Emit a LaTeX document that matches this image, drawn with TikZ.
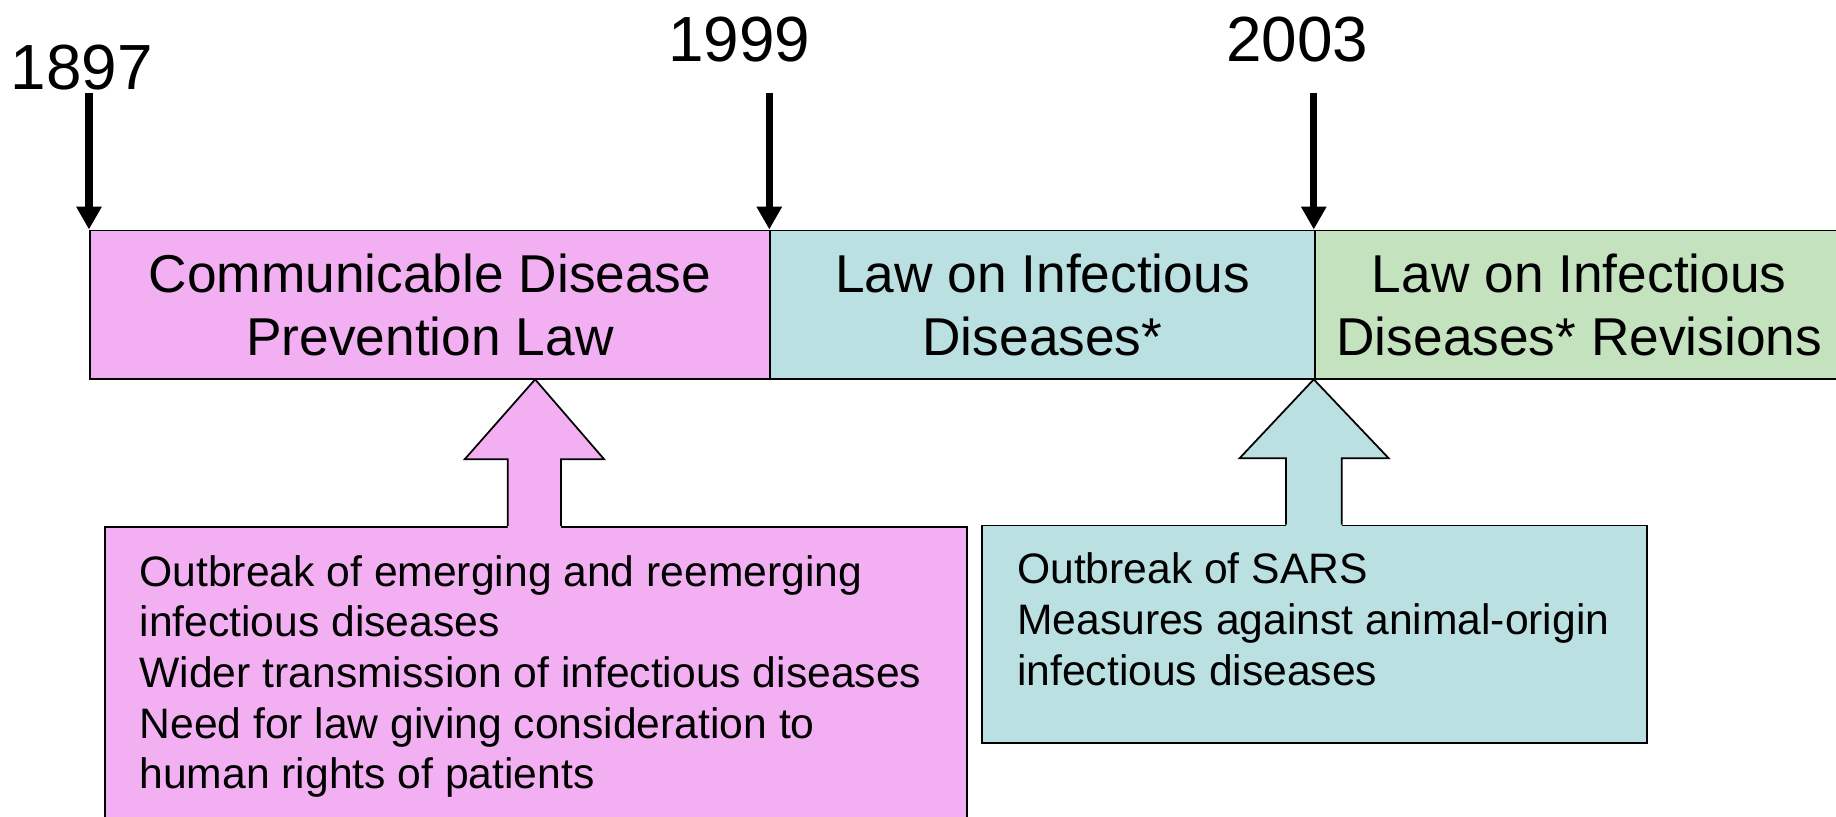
\documentclass[tikz,border=0pt]{standalone}
\usepackage{fontspec}
\setmainfont{Liberation Sans}
\usetikzlibrary{arrows.meta}
\definecolor{pinkc}{RGB}{242,176,242}
\definecolor{bluec}{RGB}{186,224,226}
\definecolor{greenc}{RGB}{196,226,190}
\begin{document}
\begin{tikzpicture}[x=1pt,y=1pt,
  bar/.style={draw=black,line width=1.5pt,inner sep=0pt,align=center,
    font=\fontsize{45.5}{54}\selectfont,anchor=north west,minimum height=127pt},
  yearlbl/.style={font=\fontsize{54.5}{60}\selectfont,inner sep=0pt},
  yrarrow/.style={line width=6pt,-{Triangle[width=20.5pt,length=19.5pt]}},
  infobox/.style={draw=black,line width=1.5pt,anchor=north west,inner sep=0pt},
  infotext/.style={font=\fontsize{36.4}{43.3}\selectfont,align=left,anchor=north west,inner sep=0pt},
  blockarrow/.style={draw=black,line width=1.5pt,line join=miter}]
\useasboundingbox (0,0) rectangle (1568,-697);
\fill[white] (0,0) rectangle (1568,-697);

% timeline bar
\node[bar,fill=pinkc,minimum width=581pt] (b1) at (76,-196) {Communicable Disease\\Prevention Law};
\node[bar,fill=bluec,minimum width=465pt] (b2) at (657,-196) {Law on Infectious\\Diseases*};
\node[bar,fill=greenc,minimum width=452pt] (b3) at (1122,-196) {Law on Infectious\\Diseases* Revisions};

% years
\node[yearlbl] (y1) at (70,-57.5) {1897};
\node[yearlbl] (y2) at (631.5,-33.5) {1999};
\node[yearlbl] (y3) at (1108,-33.5) {2003};
\coordinate (s1) at (76,-79);
\coordinate (s2) at (657,-79);
\coordinate (s3) at (1122,-79);
\draw[yrarrow] (s1) -- (b1.north west);
\draw[yrarrow] (s2) -- (b2.north west);
\draw[yrarrow] (s3) -- (b3.north west);

% lower boxes
\node[infobox,fill=pinkc,minimum width=736pt,minimum height=252pt] (r1) at (89,-449) {};
\node[infobox,fill=bluec,minimum width=568pt,minimum height=186pt] (r2) at (838,-448) {};

% block arrows
\fill[pinkc] (433.6,-451) -- (433.6,-392.3) -- (396.8,-392.3) -- (457,-324) -- (516,-392.3) -- (479.2,-392.3) -- (479.2,-451) -- cycle;
\draw[blockarrow] (433.6,-449) -- (433.6,-392.3) -- (396.8,-392.3) -- (457,-324) -- (516,-392.3) -- (479.2,-392.3) -- (479.2,-449);
\fill[bluec] (1098.3,-450) -- (1098.3,-391.4) -- (1058.6,-391.4) -- (1122,-324) -- (1186,-391.4) -- (1145.9,-391.4) -- (1145.9,-450) -- cycle;
\draw[blockarrow] (1098.3,-448) -- (1098.3,-391.4) -- (1058.6,-391.4) -- (1122,-324) -- (1186,-391.4) -- (1145.9,-391.4) -- (1145.9,-448);

% texts
\node[infotext] (t1) at (119,-474) {Outbreak of emerging and reemerging\\infectious diseases\\Wider transmission of infectious diseases\\Need for law giving consideration to\\human rights of patients};
\node[infotext] (t2) at (868.5,-472) {Outbreak of SARS\\Measures against animal-origin\\infectious diseases};
\end{tikzpicture}
\end{document}
